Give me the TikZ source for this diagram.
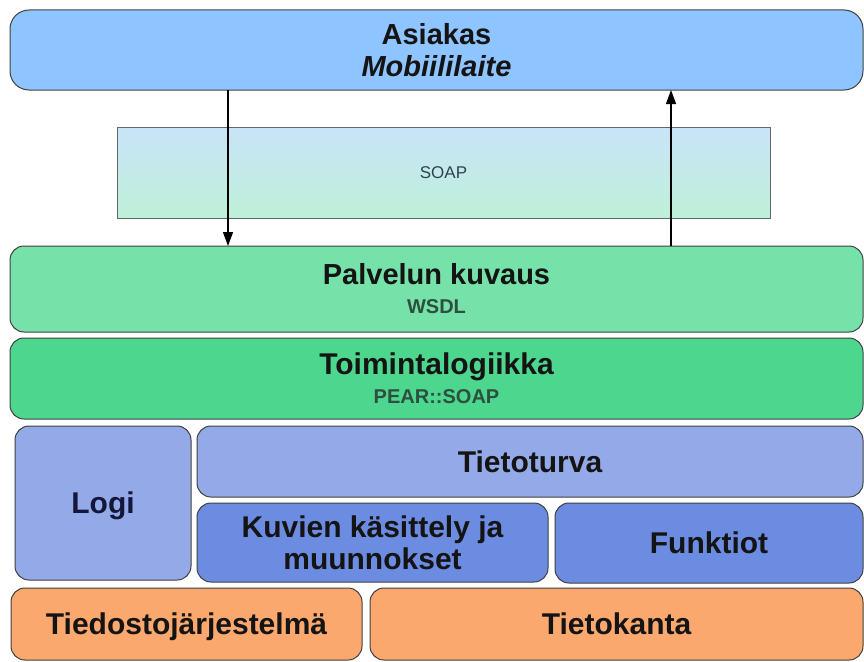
\documentclass[tikz,border=0pt]{standalone}
\usepackage{fontspec}
\setmainfont{Liberation Sans}
\usetikzlibrary{arrows.meta}

% layer colours
\definecolor{cClient}{HTML}{8EC4FF}
\definecolor{cSoapTop}{HTML}{C9E3F8}
\definecolor{cSoapBot}{HTML}{BDF0D8}
\definecolor{cDescr}{HTML}{76E2AA}
\definecolor{cLogic}{HTML}{4DD68E}
\definecolor{cSecure}{HTML}{94AAE8}
\definecolor{cFunc}{HTML}{6B8CE0}
\definecolor{cStore}{HTML}{FBA86E}
\definecolor{cSub}{HTML}{2E4F3E}
\definecolor{cNavy}{HTML}{14163A}
\definecolor{cSoapTxt}{HTML}{2E4250}

\newcommand\lyrtitle{\bfseries\fontsize{30}{31}\selectfont}
\newcommand\lyrtitlesm{\bfseries\fontsize{29}{30}\selectfont}
\newcommand\lyrsub{\bfseries\fontsize{20}{22}\selectfont}

\begin{document}
\begin{tikzpicture}[x=1pt,y=-1pt,
  layer/.style={draw=black!75, line width=1pt, rounded corners=14pt,
    inner sep=0pt, outer sep=0pt, align=center, text=black!92, font=\lyrtitle},
  oneline/.style={text height=21.5pt, text depth=0pt},
  arr/.style={line width=1.3pt, -{Triangle[length=14pt,width=10pt]}}]

\useasboundingbox (0,0) rectangle (864,661);
\fill[white] (0,0) rectangle (864,661);

% client
\node[layer, font=\lyrtitlesm, rounded corners=19pt, fill=cClient, minimum width=853pt, minimum height=80pt]
  (asiakas) at (436.5,50) {Asiakas\\[2pt]\textit{Mobiililaite}};

% transport
\node[draw=black!60, line width=0.8pt, top color=cSoapTop, bottom color=cSoapBot,
  minimum width=653pt, minimum height=91pt, inner sep=0pt, outer sep=0pt,
  text=cSoapTxt, font=\fontsize{17}{20}\selectfont]
  (soap) at (443.5,172.5) {SOAP};

% server layers
\node[layer, font=\lyrtitlesm, fill=cDescr, minimum width=853pt, minimum height=86pt]
  (palvelu) at (436.5,289) {Palvelun kuvaus\\[-1pt]{\lyrsub\color{cSub}WSDL}};
\node[layer, fill=cLogic, minimum width=853pt, minimum height=81pt]
  (toiminta) at (436.5,378.5) {Toimintalogiikka\\[-2pt]{\lyrsub\color{cSub}PEAR::SOAP}};

\node[layer, oneline, fill=cSecure, text=cNavy, minimum width=176pt, minimum height=154pt]
  (logi) at (103,503) {Logi};
\node[layer, oneline, fill=cSecure, minimum width=666pt, minimum height=71pt]
  (tietoturva) at (530,461.5) {Tietoturva};
\node[layer, fill=cFunc, minimum width=351pt, minimum height=79pt]
  (kuvat) at (372.5,542.5) {Kuvien käsittely ja\\[1pt]muunnokset};
\node[layer, oneline, fill=cFunc, minimum width=308pt, minimum height=80pt]
  (funktiot) at (709,543) {Funktiot};

\node[layer, oneline, fill=cStore, minimum width=351pt, minimum height=72pt]
  (tiedosto) at (186.5,624) {Tiedostojärjestelmä};
\node[layer, oneline, fill=cStore, minimum width=493pt, minimum height=72pt]
  (tietokanta) at (616.5,624) {Tietokanta};

% request and response
\draw[arr] ([xshift=-208.5pt]asiakas.south) -- ([xshift=-208.5pt]palvelu.north);
\draw[arr] ([xshift=234.5pt]palvelu.north) -- ([xshift=234.5pt]asiakas.south);
\end{tikzpicture}
\end{document}
